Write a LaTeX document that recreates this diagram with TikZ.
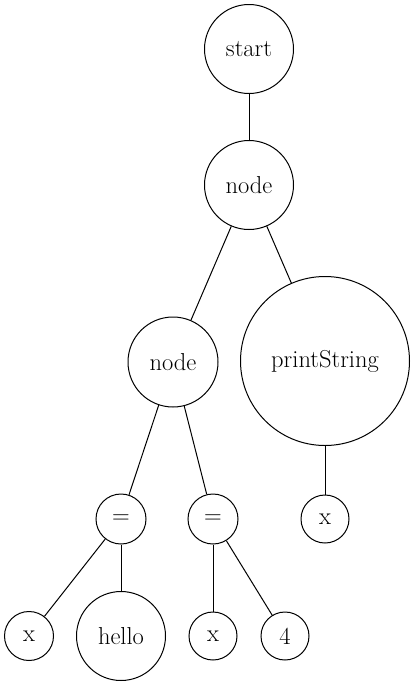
\documentclass[tikz,border=0pt]{standalone}
\begin{document}
\begin{tikzpicture}[x=1pt,y=-1pt,
  vtx/.style={circle,draw,line width=1pt,inner sep=0pt,font=\fontsize{24.5}{28}\selectfont},
  edge/.style={line width=1pt}]
\useasboundingbox (0,0) rectangle (415,686);
\node[vtx,minimum size=89pt] (start) at (249,49) {start};
\node[vtx,minimum size=89pt] (n1) at (249,185) {node};
\node[vtx,minimum size=90pt] (n2) at (173,362) {node};
\node[vtx,minimum size=169pt] (ps) at (325,361) {printString};
\node[vtx,minimum size=50pt] (eq1) at (121,519) {=};
\node[vtx,minimum size=50pt] (eq2) at (213,519) {=};
\node[vtx,minimum size=48pt] (x3) at (325,519) {x};
\node[vtx,minimum size=49pt] (x1) at (29,636) {x};
\node[vtx,minimum size=89pt] (hello) at (121,636) {hello};
\node[vtx,minimum size=48pt] (x2) at (213,636) {x};
\node[vtx,minimum size=48pt] (four) at (285,636) {4};
\draw[edge] (start) -- (n1);
\draw[edge] (n1) -- (n2);
\draw[edge] (n1) -- (ps);
\draw[edge] (n2) -- (eq1);
\draw[edge] (n2) -- (eq2);
\draw[edge] (ps) -- (x3);
\draw[edge] (eq1) -- (x1);
\draw[edge] (eq1) -- (hello);
\draw[edge] (eq2) -- (x2);
\draw[edge] (eq2) -- (four);
\end{tikzpicture}
\end{document}
